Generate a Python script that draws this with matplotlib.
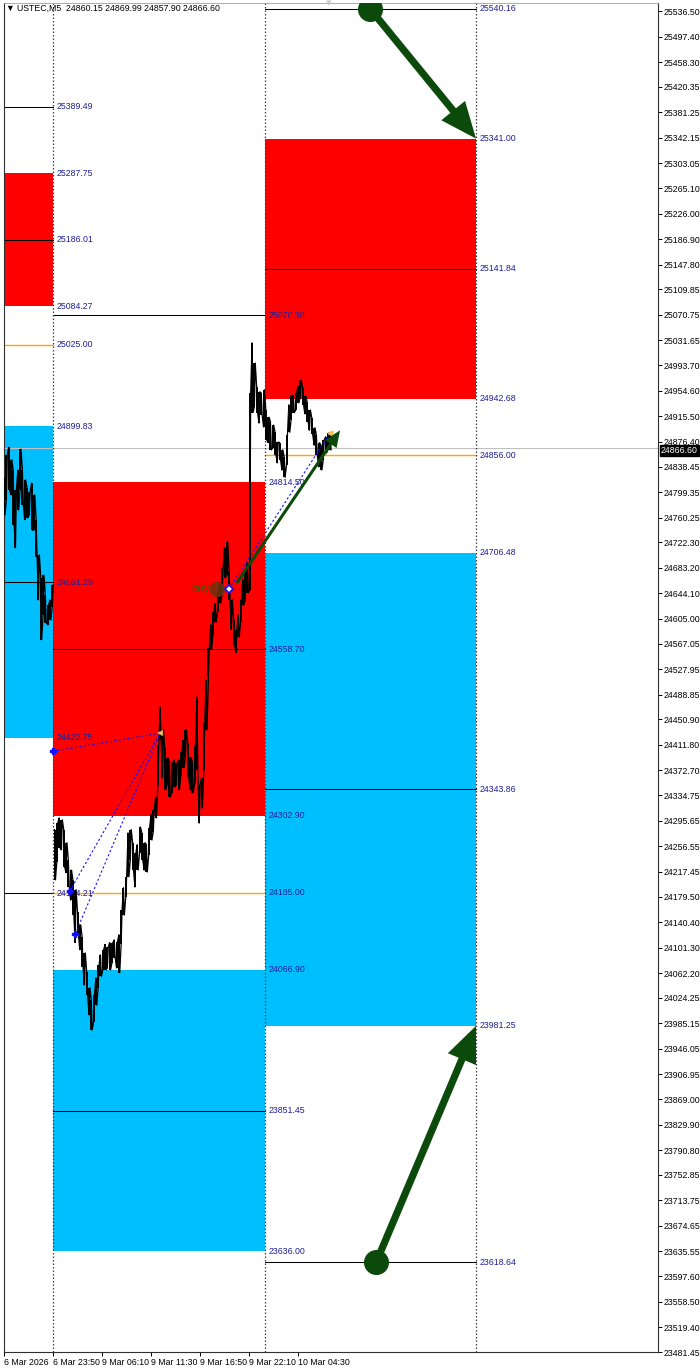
import matplotlib
matplotlib.use("Agg")
import matplotlib.pyplot as plt
from matplotlib.patches import Rectangle, FancyArrowPatch

plt.rcParams["font.family"] = ["Liberation Sans", "DejaVu Sans"]

# ---------------- data ----------------
header_symbol = "USTEC,M5"
header_ohlc = [24860.15, 24869.99, 24857.90, 24866.60]
current_price = 24866.60

bar_step = 3          # one sample = 3 M5 bars (15 min)
gap_after = 21        # weekend gap after this sample index

high = [24821, 24856, 24868, 24849, 24833, 24803, 24833, 24865, 24833, 24818,
        24806, 24800, 24813, 24795, 24757, 24703, 24668, 24672, 24642, 24626,
        24634, 24657,
        24282, 24292, 24300, 24297, 24282, 24262, 24236, 24220, 24205, 24190,
        24156, 24136, 24118, 24093, 24064, 24040, 24021, 24029, 24055, 24075,
        24090, 24098, 24106, 24102, 24109, 24109, 24113, 24110, 24121, 24159,
        24193, 24210, 24277, 24282, 24262, 24246, 24259, 24286, 24277, 24262,
        24259, 24285, 24305, 24312, 24332, 24412, 24470, 24435, 24407, 24392,
        24386, 24384, 24389, 24384, 24389, 24401, 24419, 24435, 24415, 24393,
        24386, 24412, 24485, 24351, 24361, 24445, 24511, 24561, 24596, 24616,
        24629, 24649, 24660, 24683, 24714, 24723, 24677, 24634, 24603, 24588,
        24611, 24634, 24665, 24677, 24691, 24951, 25028, 24997, 24960, 24953,
        24951, 24956, 24925, 24914, 24907, 24902, 24891, 24876, 24875, 24864,
        24853, 24887, 24933, 24948, 24947, 24951, 24962, 24971, 24959, 24947,
        24937, 24925, 24913, 24898, 24887, 24875, 24871, 24879, 24884, 24890,
        24887]
low = [24764, 24787, 24803, 24795, 24749, 24714, 24772, 24803, 24780, 24757,
       24760, 24764, 24741, 24741, 24700, 24634, 24573, 24611, 24599, 24596,
       24603, 24623,
       24205, 24233, 24254, 24251, 24225, 24216, 24194, 24174, 24151, 24109,
       24121, 24098, 24072, 24044, 24029, 23998, 23975, 23987, 24013, 24040,
       24057, 24067, 24067, 24070, 24067, 24078, 24086, 24070, 24063, 24106,
       24151, 24178, 24210, 24236, 24220, 24194, 24220, 24246, 24236, 24220,
       24217, 24243, 24266, 24279, 24300, 24351, 24419, 24361, 24343, 24351,
       24332, 24338, 24347, 24351, 24343, 24366, 24377, 24393, 24363, 24343,
       24338, 24354, 24373, 24292, 24315, 24373, 24435, 24516, 24558, 24581,
       24600, 24616, 24629, 24646, 24668, 24672, 24634, 24588, 24565, 24553,
       24577, 24600, 24626, 24634, 24645, 24649, 24921, 24930, 24921, 24905,
       24917, 24899, 24879, 24875, 24864, 24867, 24856, 24844, 24849, 24833,
       24822, 24841, 24891, 24910, 24921, 24925, 24936, 24945, 24933, 24919,
       24907, 24894, 24888, 24871, 24856, 24838, 24833, 24849, 24859, 24864,
       24864]

time_ticks = [0, 64, 128, 192, 256, 320, 384]
time_labels = ["6 Mar 2026", "6 Mar 23:50", "9 Mar 06:10", "9 Mar 11:30",
               "9 Mar 16:50", "9 Mar 22:10", "10 Mar 04:30"]

price_ticks = [25536.50, 25497.40, 25458.30, 25420.35, 25381.25, 25342.15, 25303.05,
               25265.10, 25226.00, 25186.90, 25147.80, 25109.85, 25070.75, 25031.65,
               24993.70, 24954.60, 24915.50, 24876.40, 24838.45, 24799.35, 24760.25,
               24722.30, 24683.20, 24644.10, 24605.00, 24567.05, 24527.95, 24488.85,
               24450.90, 24411.80, 24372.70, 24334.75, 24295.65, 24256.55, 24217.45,
               24179.50, 24140.40, 24101.30, 24062.20, 24024.25, 23985.15, 23946.05,
               23906.95, 23869.00, 23829.90, 23790.80, 23752.85, 23713.75, 23674.65,
               23635.55, 23597.60, 23558.50, 23519.40, 23481.45]

zone_bounds = [0, 64, 341, 616]   # bar indices of zone edges

# zones: (red low, red high), (cyan low, cyan high)
zone_red = [(25084.27, 25287.75), (24302.90, 24814.50), (24942.68, 25341.00)]
zone_cyan = [(24422.75, 24899.83), (23636.00, 24066.90), (23981.25, 24706.48)]
zone_black = [[25389.49, 25186.01, 24661.29, 24184.21],
              [25070.30, 24558.70, 23851.45],
              [25540.16, 25141.84, 24343.86, 23618.64]]
zone_orange = [25025.00, 24185.00, 24856.00]
zone_labels = [[25389.49, 25287.75, 25186.01, 25084.27, 25025.00, 24899.83, 24661.29, 24422.75, 24184.21],
               [25070.30, 24814.50, 24558.70, 24302.90, 24185.00, 24066.90, 23851.45, 23636.00],
               [25540.16, 25341.00, 25141.84, 24942.68, 24856.00, 24706.48, 24343.86, 23981.25, 23618.64]]

arrow_big = [((478, 25540.16), (616.5, 25341.00)),
             ((486, 23618.64), (616.5, 23981.25))]
arrow_small = ((304, 24660), (439, 24894))

trend_lines = [((64, 24402), (204, 24430)),
               ((86, 24188), (204, 24430)),
               ((93, 24122), (204, 24430)),
               ((294, 24651), (426, 24890))]
buy_point = (278, 24651)

# ---------------- figure ----------------
W, H = 700, 1370
fig = plt.figure(figsize=(W / 100, H / 100), dpi=100)
fig.patch.set_facecolor("white")
ax = fig.add_axes([4 / W, 18 / H, 654 / W, 1349 / H])
ax.set_xlim(0, 854.2)
ax.set_ylim(23481.45, 25548.8)

RED = "#ff0000"
CYAN = "#00bfff"
ORANGE = "#ffa500"
LBL = "#1f1f99"
GREEN = "#0b4a0b"
FS = 6.3

# zones
x_left_ext = -20
for i in range(3):
    x0 = zone_bounds[i] if i > 0 else x_left_ext
    x1 = zone_bounds[i + 1]
    r0, r1 = zone_red[i]
    c0, c1 = zone_cyan[i]
    ax.add_patch(Rectangle((x0, r0), x1 - x0, r1 - r0, color=RED, lw=0, zorder=1))
    ax.add_patch(Rectangle((x0, c0), x1 - x0, c1 - c0, color=CYAN, lw=0, zorder=1))
    for p in zone_black[i]:
        ax.plot([x0, x1], [p, p], color="black", lw=0.75, zorder=2)
    ax.plot([x0, x1], [zone_orange[i]] * 2, color=ORANGE, lw=1.0, zorder=2)
    for p in zone_labels[i]:
        ax.text(x1 + 5, p, f"{p:.2f}", color=LBL, fontsize=FS, va="center",
                ha="left", zorder=3)

# current price line
ax.axhline(current_price, color="#c0c0c0", lw=0.8, zorder=2)

# vertical separators
for xb in zone_bounds[1:]:
    ax.axvline(xb, color="#404040", lw=0.9, ls=(0, (1.2, 1.6)), zorder=2)

# price series
xs = [bar_step * k for k in range(len(high))]
ax.vlines(xs, low, high, color="black", lw=1.4, zorder=4)
zx, zy = [], []
for k in range(len(high)):
    if k % 2 == 0:
        zx += [xs[k], xs[k] + 1.2]
        zy += [high[k], low[k]]
    else:
        zx += [xs[k], xs[k] + 1.2]
        zy += [low[k], high[k]]
    if k == gap_after:
        zx.append(float("nan"))
        zy.append(float("nan"))
ax.plot(zx, zy, color="black", lw=0.9, zorder=4)

# blue dotted trend lines
for (a, b) in trend_lines:
    ax.plot([a[0], b[0]], [a[1], b[1]], color="#1010ff", lw=0.8,
            ls=(0, (2, 2)), zorder=5)
for (a, b) in trend_lines[:3]:
    ax.plot(a[0], a[1], marker="P", color="#1010ff", ms=4, zorder=6)
ax.plot(trend_lines[0][1][0], trend_lines[0][1][1], marker="<", color="#f3c24a",
        mec="#888866", mew=0.3, ms=5, zorder=6)
ax.plot(trend_lines[3][1][0], trend_lines[3][1][1], marker="<", color="#f3c24a",
        ms=3.5, zorder=6)
ax.plot(trend_lines[3][0][0], trend_lines[3][0][1], marker="D", color="white",
        mec="#1010ff", mew=1.2, ms=4, zorder=6)

# buy marker
ax.plot(buy_point[0], buy_point[1], marker="o", color="#6b3510", ms=10,
        alpha=0.85, zorder=5)
ax.text(buy_point[0] - 34, buy_point[1], "buy", color="#3d5a12", fontsize=8,
        va="center", ha="left", zorder=5)

# arrows
for (a, b) in arrow_big:
    ax.add_patch(FancyArrowPatch(a, b, arrowstyle="simple,head_width=1.1,head_length=1.3,tail_width=0.26",
                                 mutation_scale=20, color=GREEN, lw=0, shrinkA=0, shrinkB=0, zorder=7))
    ax.plot(a[0], a[1], marker="o", color=GREEN, ms=17, zorder=8)
ax.add_patch(FancyArrowPatch(arrow_small[0], arrow_small[1],
                             arrowstyle="simple,head_width=1.0,head_length=1.2,tail_width=0.22",
                             mutation_scale=10, color=GREEN, lw=0, shrinkA=0, shrinkB=0, zorder=7))

# small grey marker at top
ax.text(424, 25548.8, "\u25bc", color="#c8c8c8", fontsize=5, ha="center", va="center",
        zorder=3, family="DejaVu Sans")

# axes styling
ax.yaxis.tick_right()
ax.set_yticks(price_ticks)
ax.set_yticklabels([f"{p:.2f}" for p in price_ticks])
ax.tick_params(axis="y", direction="out", length=3, width=0.7, labelsize=FS, pad=1)
ax.set_xticks(time_ticks)
ax.set_xticklabels(time_labels)
for lbl in ax.get_xticklabels():
    lbl.set_horizontalalignment("left")
ax.tick_params(axis="x", direction="out", length=3, width=0.7, labelsize=FS, pad=1.5)
for s in ["left", "right", "bottom"]:
    ax.spines[s].set_color("#303030")
    ax.spines[s].set_linewidth(0.8)
ax.spines["top"].set_color("#a0a0a0")
ax.spines["top"].set_linewidth(0.6)

# current price label on axis
ax.annotate(f"{current_price:.2f}", xy=(1.0, current_price),
            xycoords=("axes fraction", "data"), xytext=(2, -1.5),
            textcoords="offset points", color="white", fontsize=FS,
            va="center", ha="left",
            bbox=dict(boxstyle="square,pad=0.12", fc="black", ec="black"),
            zorder=10, annotation_clip=False)

# header
hdr = "\u25bc " + header_symbol + "  " + " ".join(f"{v:.2f}" for v in header_ohlc)
fig.text(6 / W, 1 - 8 / H, hdr, fontsize=FS, va="center", ha="left", color="black",
         family=["Liberation Sans", "DejaVu Sans"])

fig.savefig("out.png", dpi=100)
